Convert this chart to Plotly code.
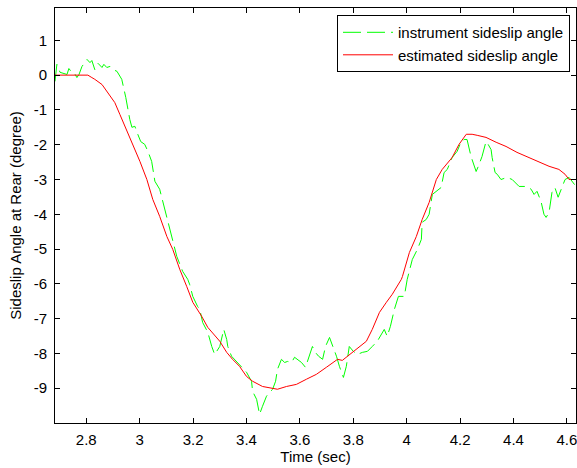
import plotly.graph_objects as go

# Estimated sideslip angle (red)
est_time = [2.683, 2.750, 2.806, 2.821, 2.832, 2.859, 2.881, 2.907, 2.926, 2.945, 2.971, 2.989,
            3.001, 3.027, 3.049, 3.075, 3.102, 3.124, 3.150, 3.176, 3.199, 3.232, 3.255,
            3.300, 3.326, 3.348, 3.374, 3.400, 3.423, 3.460, 3.498, 3.516, 3.550, 3.587,
            3.625, 3.662, 3.699, 3.722, 3.741, 3.759, 3.778, 3.812, 3.849, 3.871, 3.898,
            3.924, 3.946, 3.980, 3.984, 4.010, 4.036, 4.058, 4.084, 4.111, 4.133, 4.170,
            4.196, 4.223, 4.245, 4.264, 4.297, 4.335, 4.372, 4.413, 4.451, 4.495, 4.533,
            4.570, 4.593, 4.608, 4.634]
est_angle = [0.00, 0.00, 0.00, -0.07, -0.12, -0.27, -0.50, -0.79, -1.13, -1.47, -1.91, -2.22,
             -2.48, -3.00, -3.57, -4.06, -4.64, -5.01, -5.58, -6.07, -6.53, -6.93, -7.25,
             -7.65, -7.97, -8.17, -8.37, -8.66, -8.80, -8.95, -9.00, -9.03, -8.95, -8.89,
             -8.74, -8.60, -8.40, -8.26, -8.17, -8.20, -8.08, -7.88, -7.65, -7.31, -6.82,
             -6.53, -6.30, -5.87, -5.79, -5.10, -4.64, -4.15, -3.66, -3.00, -2.71, -2.37,
             -1.99, -1.70, -1.70, -1.73, -1.79, -1.93, -2.05, -2.22, -2.34, -2.48, -2.62,
             -2.71, -2.85, -3.00, -3.00]

# Instrument sideslip angle (green)
ins_time = [2.683, 2.690, 2.702, 2.713, 2.728, 2.735, 2.743, 2.754, 2.765, 2.773, 2.784, 2.803,
            2.814, 2.821, 2.832, 2.844, 2.859, 2.866, 2.877, 2.889, 2.900, 2.915, 2.933,
            2.948, 2.956, 2.963, 2.971, 2.982, 2.993, 3.004, 3.019, 3.031, 3.045, 3.057,
            3.075, 3.087, 3.094, 3.105, 3.113, 3.124, 3.139, 3.161, 3.180, 3.187, 3.199,
            3.217, 3.225, 3.236, 3.255, 3.270, 3.281, 3.300, 3.315, 3.326, 3.330, 3.344,
            3.363, 3.382, 3.400, 3.419, 3.423, 3.438, 3.449, 3.460, 3.475, 3.486, 3.498,
            3.509, 3.516, 3.531, 3.543, 3.554, 3.569, 3.580, 3.591, 3.606, 3.621, 3.632,
            3.647, 3.658, 3.670, 3.685, 3.696, 3.711, 3.726, 3.737, 3.748, 3.763, 3.774,
            3.785, 3.800, 3.815, 3.834, 3.853, 3.871, 3.890, 3.916, 3.927, 3.939, 3.954,
            3.969, 3.991, 4.002, 4.021, 4.040, 4.055, 4.058, 4.073, 4.084, 4.096, 4.129,
            4.140, 4.152, 4.170, 4.189, 4.204, 4.215, 4.226, 4.241, 4.260, 4.271, 4.282,
            4.297, 4.305, 4.316, 4.320, 4.331, 4.339, 4.353, 4.376, 4.395, 4.413, 4.421,
            4.451, 4.458, 4.466, 4.477, 4.488, 4.503, 4.514, 4.522, 4.533, 4.544, 4.555,
            4.567, 4.578, 4.593, 4.608, 4.626, 4.634]
ins_angle = [-0.18, 0.31, 0.08, 0.05, 0.02, 0.19, 0.11, 0.08, -0.07, 0.02, 0.25, 0.45,
             0.36, 0.42, 0.16, 0.34, 0.22, 0.31, 0.22, 0.25, 0.16, 0.11, -0.12,
             -0.64, -0.99, -1.27, -1.50, -1.47, -1.70, -1.91, -1.99, -2.19, -2.48, -3.05,
             -3.28, -3.63, -3.86, -4.15, -4.43, -4.72, -5.21, -5.64, -5.87, -6.01, -6.36,
             -6.65, -6.73, -7.11, -7.39, -7.80, -8.03, -7.80, -7.31, -7.60, -7.80, -8.08,
             -8.23, -8.37, -8.54, -8.80, -9.09, -9.32, -9.75, -9.52, -9.23, -9.12, -9.03,
             -8.80, -8.46, -8.17, -8.26, -8.23, -8.26, -8.11, -8.17, -8.26, -8.40, -8.17,
             -7.80, -7.97, -8.08, -8.17, -7.80, -7.54, -7.83, -8.08, -8.37, -8.69, -8.37,
             -7.80, -7.94, -8.03, -7.97, -7.94, -7.80, -7.65, -7.31, -7.51, -7.22, -6.73,
             -6.36, -6.36, -5.87, -5.30, -5.01, -4.72, -4.23, -4.15, -4.00, -3.43, -3.23,
             -2.80, -2.71, -2.37, -2.19, -1.91, -1.85, -1.85, -2.34, -2.77, -2.57, -2.34,
             -1.91, -1.99, -2.14, -2.37, -2.80, -2.85, -3.00, -2.94, -3.00, -3.14, -3.20,
             -3.20, -3.23, -3.28, -3.43, -3.34, -3.63, -4.00, -4.09, -3.95, -3.37, -3.23,
             -3.51, -3.28, -3.00, -2.94, -3.14, -3.20]

x_tickvals = [2.8, 3.0, 3.2, 3.4, 3.6, 3.8, 4.0, 4.2, 4.4, 4.6]
x_ticktext = ["2.8", "3", "3.2", "3.4", "3.6", "3.8", "4", "4.2", "4.4", "4.6"]
y_tickvals = [-9, -8, -7, -6, -5, -4, -3, -2, -1, 0, 1]
y_ticktext = ["-9", "-8", "-7", "-6", "-5", "-4", "-3", "-2", "-1", "0", "1"]

FONT = "Liberation Sans, Arial, sans-serif"
FS = 15

fig = go.Figure()
fig.add_trace(go.Scatter(x=ins_time, y=ins_angle, mode="lines",
                         name="instrument sideslip angle",
                         line=dict(color="#00ff00", width=1, dash="18px,6px")))
fig.add_trace(go.Scatter(x=est_time, y=est_angle, mode="lines",
                         name="estimated sideslip angle",
                         line=dict(color="#ff0000", width=1)))

axis_common = dict(showline=True, linecolor="#000000", linewidth=1, mirror="ticks",
                   ticks="inside", ticklen=5, tickcolor="#000000", showgrid=False,
                   zeroline=False, automargin=False, ticklabeloverflow="allow",
                   tickfont=dict(family=FONT, size=FS, color="#000000"))

fig.update_layout(
    width=577, height=468,
    margin=dict(l=55, r=1, t=8, b=45),
    paper_bgcolor="white", plot_bgcolor="white",
    font=dict(family=FONT, size=FS, color="#000000"),
    xaxis=dict(range=[2.683, 4.634], tickvals=x_tickvals, ticktext=x_ticktext,
               ticklabelstandoff=3,
               title=dict(text="Time (sec)", standoff=4,
                          font=dict(family=FONT, size=FS)), **axis_common),
    yaxis=dict(range=[-10, 1.93], tickvals=y_tickvals, ticktext=y_ticktext,
               ticklabelstandoff=4,
               title=dict(text="Sideslip Angle at Rear (degree)", standoff=8,
                          font=dict(family=FONT, size=FS)), **axis_common),
    legend=dict(x=0.9885, y=0.983, xanchor="right", yanchor="top",
                bgcolor="white", bordercolor="#000000", borderwidth=1,
                font=dict(family=FONT, size=FS, color="#000000"),
                tracegroupgap=0, itemwidth=50),
    showlegend=True,
)

fig.write_html("out.html", config={"displayModeBar": False},
               post_script="document.body.style.margin='0';document.body.style.padding='0';")
